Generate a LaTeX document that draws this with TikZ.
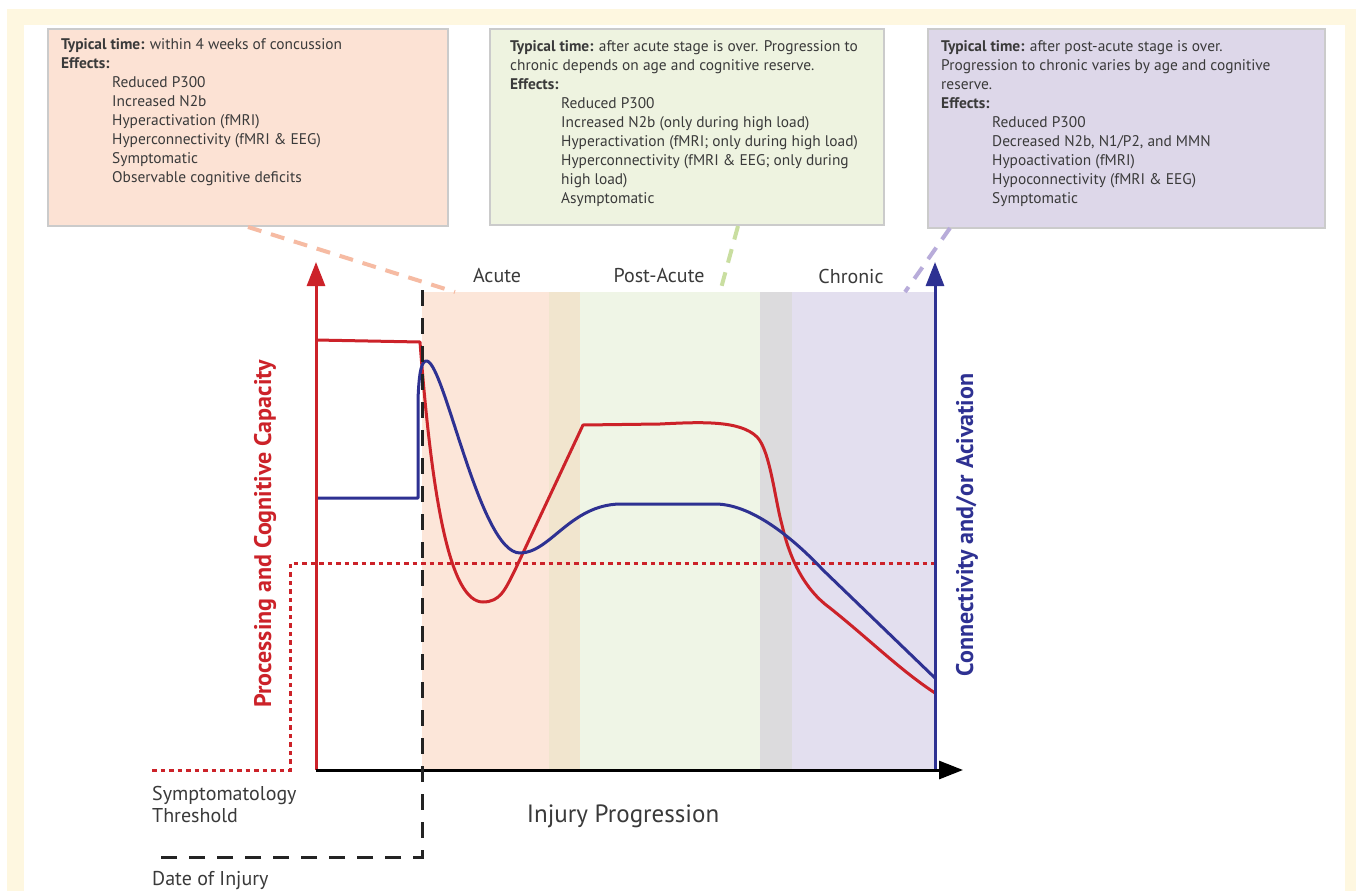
\documentclass[tikz,border=0pt]{standalone}
\usepackage{fontspec}
\setmainfont{PT Sans}
\usepackage{tikz}
\usetikzlibrary{arrows.meta,positioning}
\definecolor{framecol}{HTML}{FEF7E0}
\definecolor{acutecol}{HTML}{FCE6D9}
\definecolor{tancol}{HTML}{F1E5CE}
\definecolor{postcol}{HTML}{EFF5E6}
\definecolor{greycol}{HTML}{DCDBDD}
\definecolor{chroniccol}{HTML}{E3DFEF}
\definecolor{acutebox}{HTML}{FCE2D4}
\definecolor{postbox}{HTML}{EEF3E0}
\definecolor{chronicbox}{HTML}{DDD7E9}
\definecolor{boxline}{HTML}{CBCBCB}
\definecolor{capred}{HTML}{CC2229}
\definecolor{conblue}{HTML}{2E3192}
\definecolor{textgrey}{HTML}{3A3A3A}
\definecolor{peachdash}{HTML}{F6BBA3}
\definecolor{greendash}{HTML}{C9DEA0}
\definecolor{purpledash}{HTML}{B8ACDA}
\tikzset{
  stagebox/.style={draw=boxline, line width=2pt, anchor=north west, inner sep=0pt},
  boxtext/.style={anchor=north west, inner sep=0pt, align=left, text=textgrey, font=\fontsize{15.4}{19}\selectfont},
  leader/.style={line width=4pt, dash pattern=on 14pt off 10pt},
  bandlabel/.style={text=textgrey, font=\fontsize{20}{22}\selectfont},
  axislabel/.style={rotate=90, font=\fontsize{24}{26}\selectfont\bfseries},
  curve/.style={line width=3pt, line join=round},
  arrowaxis/.style={line width=3pt, -{Triangle[length=24pt, width=18pt]}}
}
\newcommand{\ind}{\hspace*{51pt}}
\begin{document}
\begin{tikzpicture}[x=1pt, y=-1pt]
\useasboundingbox (0,0) rectangle (1356,891);
\fill[framecol] (7,9) rectangle (1356,891);
\fill[white] (24,25) rectangle (1345,891);
% stage bands
\fill[acutecol] (422,292) rectangle (549,770);
\fill[tancol] (549,292) rectangle (580,770);
\fill[postcol] (580,292) rectangle (760,770);
\fill[greycol] (760,292) rectangle (792,770);
\fill[chroniccol] (792,292) rectangle (935,770);
\node[bandlabel] (acute) at (497,276) {Acute};
\node[bandlabel] (postacute) at (659,276) {Post-Acute};
\node[bandlabel] (chronic) at (851,276) {Chronic};
% boxes
\node[stagebox, fill=acutebox, minimum width=400pt, minimum height=197pt] (acutebox) at (47,28) {};
\node[stagebox, fill=postbox, minimum width=394pt, minimum height=196pt] (postbox) at (489,28) {};
\node[stagebox, fill=chronicbox, minimum width=397pt, minimum height=199pt] (chronicbox) at (927,28) {};
\node[boxtext] (acutetext) at (61,38) {\textbf{Typical time:} within 4 weeks of concussion\\
\textbf{Effects:}\\
\ind Reduced P300\\
\ind Increased N2b\\
\ind Hyperactivation (fMRI)\\
\ind Hyperconnectivity (fMRI \& EEG)\\
\ind Symptomatic\\
\ind Observable cognitive deficits};
\node[boxtext] (posttext) at (510,40) {\textbf{Typical time:} after acute stage is over. Progression to\\
chronic depends on age and cognitive reserve.\\
\textbf{Effects:}\\
\ind Reduced P300\\
\ind Increased N2b (only during high load)\\
\ind Hyperactivation (fMRI; only during high load)\\
\ind Hyperconnectivity (fMRI \& EEG; only during\\
\ind high load)\\
\ind Asymptomatic};
\node[boxtext] (chronictext) at (941,40) {\textbf{Typical time:} after post-acute stage is over.\\
Progression to chronic varies by age and cognitive\\
reserve.\\
\textbf{Effects:}\\
\ind Reduced P300\\
\ind Decreased N2b, N1/P2, and MMN\\
\ind Hypoactivation (fMRI)\\
\ind Hypoconnectivity (fMRI \& EEG)\\
\ind Symptomatic};
\coordinate (acuteend) at (455,292);
\coordinate (poststart) at (738,226);
\coordinate (postend) at (720,292);
\coordinate (chronicstart) at (950,228);
\coordinate (chronicend) at (905,292);
\draw[leader, peachdash] (acutebox.south) -- (acuteend);
\draw[leader, greendash] (poststart) -- (postend);
\draw[leader, purpledash] (chronicstart) -- (chronicend);
% threshold
\coordinate (origin) at (316,770);
\coordinate (threshstart) at (152,770);
\draw[capred, line width=3pt, dash pattern=on 4.5pt off 4pt] (threshstart) -- (290,770) -- (290,563) -- (935,563);
% curves
\draw[curve, capred] (316,340) -- (420,342) .. controls (432,500) and (450,602) .. (483,602)
  .. controls (500,602) and (505,590) .. (515,570) -- (583,425) -- (660,424)
  .. controls (700,422) and (740,420) .. (757,437) .. controls (770,450) and (775,500) .. (782,525)
  .. controls (790,560) and (805,590) .. (830,608) .. controls (870,640) and (900,670) .. (935,693);
\draw[curve, conblue] (316,498) -- (418,498) -- (418,400) .. controls (419,370) and (422,360) .. (427,361)
  .. controls (445,365) and (480,553) .. (520,553) .. controls (550,553) and (570,505) .. (620,504)
  -- (715,504) .. controls (750,504) and (790,535) .. (823,570) -- (935,678);
% axes
\coordinate (capacitytop) at (316,262);
\coordinate (blueorigin) at (935,770);
\coordinate (activationtop) at (935,262);
\coordinate (progressend) at (963,770);
\draw[arrowaxis, capred] (origin) -- (capacitytop);
\draw[arrowaxis, conblue] (blueorigin) -- (activationtop);
\draw[arrowaxis, black] (origin) -- (progressend);
% date of injury
\coordinate (injurytop) at (422,290);
\coordinate (injurycorner) at (422,857);
\coordinate (injuryend) at (152,857);
\draw[line width=3pt, textgrey!60!black, dash pattern=on 16pt off 12pt] (injurytop) -- (injurycorner) -- (injuryend);
\node[axislabel, text=capred] (capacity) at (265,534) {Processing and Cognitive Capacity};
\node[axislabel, text=conblue] (activation) at (967,525) {Connectivity and/or Acivation};
\node[text=textgrey, font=\fontsize{25}{28}\selectfont] (progression) at (623,816) {Injury Progression};
\node[anchor=base west, inner sep=0pt, align=left, text=textgrey, font=\fontsize{20}{21.5}\selectfont] (threshold) at (152,822) {Symptomatology\\Threshold};
\node[anchor=base west, inner sep=0pt, text=textgrey, font=\fontsize{20}{22}\selectfont] (injury) at (152,885) {Date of Injury};
\end{tikzpicture}
\end{document}
